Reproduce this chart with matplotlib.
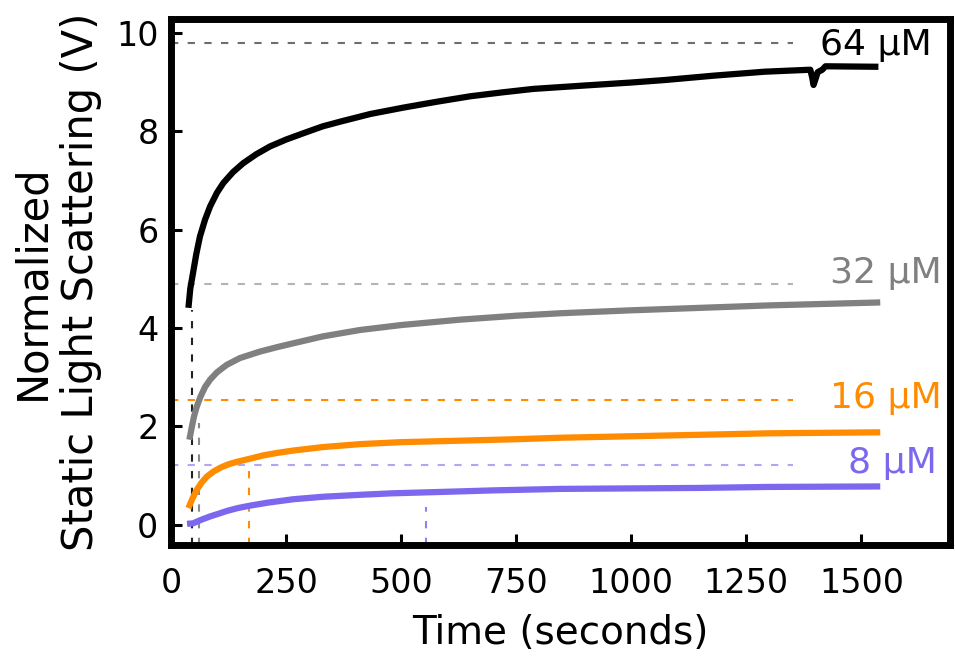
import numpy as np
from matplotlib import pyplot as plt

# time (s) and normalized scattering (V)
t_64 = [38, 42, 48, 55, 63, 74, 85, 100, 114, 135, 157, 185, 215, 250, 288, 330, 370, 433, 505, 578, 650,
        720, 787, 900, 1000, 1072, 1180, 1290, 1389, 1393, 1396, 1400, 1405, 1415, 1422, 1537]
v_64 = [4.41, 4.8, 5.12, 5.5, 5.86, 6.2, 6.47, 6.75, 6.95, 7.17, 7.35, 7.53, 7.69, 7.83, 7.96, 8.1, 8.2,
        8.35, 8.48, 8.6, 8.71, 8.79, 8.86, 8.93, 8.99, 9.04, 9.13, 9.21, 9.25, 9.1, 8.94, 9.05, 9.2, 9.25, 9.32, 9.31]

t_32 = [40, 45, 50, 56, 64, 74, 85, 100, 121, 150, 193, 230, 266, 330, 411, 500, 628, 750, 846, 1000, 1150, 1300, 1541]
v_32 = [1.73, 1.97, 2.2, 2.4, 2.6, 2.8, 2.95, 3.1, 3.25, 3.39, 3.52, 3.61, 3.69, 3.83, 3.96, 4.06, 4.17, 4.25,
        4.3, 4.36, 4.41, 4.46, 4.52]

t_16 = [38, 46, 56, 66, 78, 92, 107, 125, 143, 170, 200, 230, 266, 330, 411, 500, 628, 750, 846, 1000, 1150, 1300, 1541]
v_16 = [0.34, 0.52, 0.71, 0.85, 0.98, 1.08, 1.16, 1.23, 1.28, 1.34, 1.41, 1.46, 1.51, 1.58, 1.64, 1.68, 1.71,
        1.74, 1.77, 1.8, 1.83, 1.86, 1.88]

t_8 = [35, 48, 65, 85, 105, 121, 145, 172, 210, 266, 330, 411, 480, 556, 630, 701, 846, 1000, 1150, 1300, 1541]
v_8 = [0.02, 0.03, 0.1, 0.17, 0.23, 0.28, 0.34, 0.39, 0.45, 0.52, 0.57, 0.61, 0.64, 0.66, 0.68, 0.7, 0.73,
       0.74, 0.75, 0.77, 0.78]

labels = ["64 µM", "32 µM", "16 µM", "8 µM"]
colors = ["black", "#808080", "#ff8c00", "#7b68ee"]
dash_colors = ["#6e6e6e", "#b4b4b4", "#ff8c00", "#b2a6f4"]
plateau = [9.79, 4.89, 2.54, 1.22]
label_y = [9.76, 5.12, 2.58, 1.26]
label_x = [1652, 1674, 1674, 1665]
# vertical markers: (time, top of marker)
vmark_t = [45.6, 61, 170, 554]
vmark_top = [4.37, 2.07, 1.22, 0.37]
vmark_colors = ["#222222", "#8a8a8a", "#ff8c00", "#8f80f0"]

fig = plt.figure(figsize=(9.55, 6.57), dpi=100)
ax = fig.add_axes([0.179, 0.1705, 0.816, 0.8005])

ax.set_xlim(0, 1693)
ax.set_ylim(-0.41, 10.28)

dash = (3.5, 4.5)
for i in range(4):
    ax.plot([0, 1352], [plateau[i], plateau[i]], color=dash_colors[i], lw=1.5, dashes=dash, zorder=1)
    ax.plot([vmark_t[i], vmark_t[i]], [-0.41, vmark_top[i]], color=vmark_colors[i], lw=1.5, dashes=dash, zorder=1)
    ax.text(label_x[i], label_y[i], labels[i], color=colors[i], fontsize=26, ha="right", va="center")

for t, v, c in zip([t_64, t_32, t_16, t_8], [v_64, v_32, v_16, v_8], colors):
    ax.plot(t, v, color=c, lw=4.5, solid_capstyle="butt", zorder=3)

ax.set_xticks([0, 250, 500, 750, 1000, 1250, 1500])
ax.set_yticks([0, 2, 4, 6, 8, 10])
ax.tick_params(direction="in", length=8, width=2.2, labelsize=24)
ax.tick_params(axis="x", pad=16)
ax.tick_params(axis="y", pad=9)
for s in ax.spines.values():
    s.set_linewidth(5)

ax.set_xlabel("Time (seconds)", fontsize=28, labelpad=10)
ax.set_ylabel("Normalized\nStatic Light Scattering (V)", fontsize=30, labelpad=10)

fig.savefig("out.png", dpi=100)
